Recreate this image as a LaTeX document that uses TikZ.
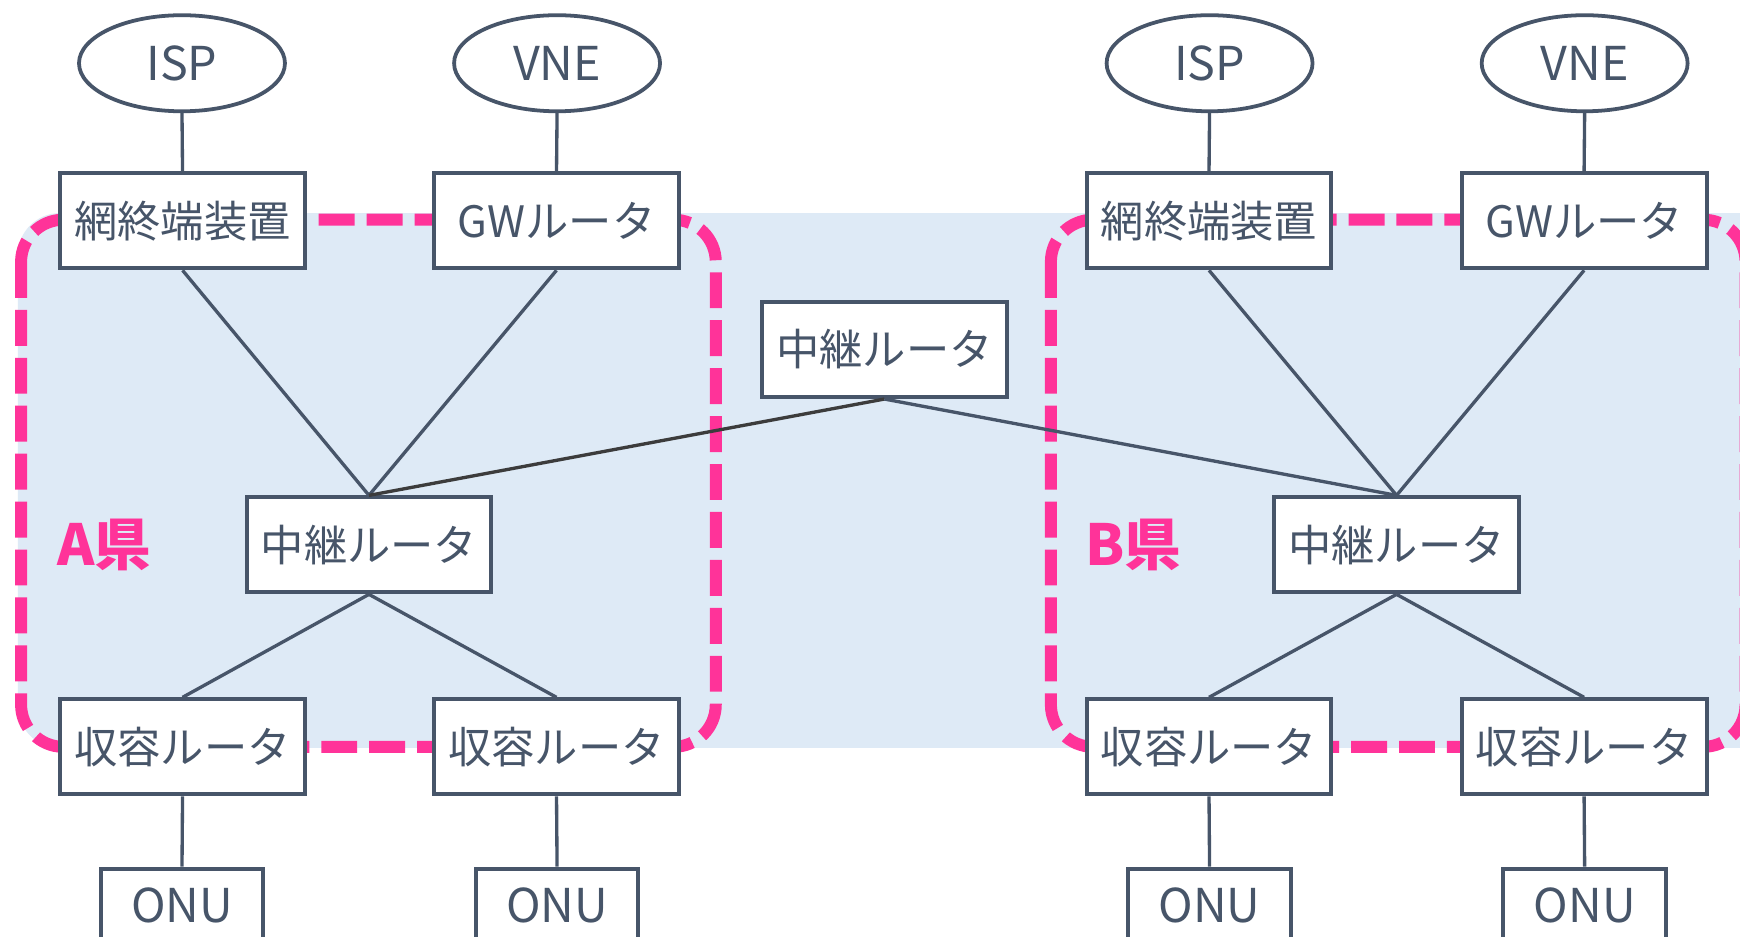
\documentclass[tikz,border=0pt]{standalone}
\usepackage{fontspec}
\setmainfont{Noto Sans CJK JP}
\usetikzlibrary{shapes.geometric}
\definecolor{slate}{RGB}{71,85,105}
\definecolor{pinkc}{RGB}{255,51,153}
\definecolor{bluebg}{RGB}{222,234,246}
\definecolor{darkline}{RGB}{60,60,60}
\begin{document}
\begin{tikzpicture}[x=0.5pt,y=-0.5pt,
  box/.style={draw=slate, line width=1.8pt, fill=white, minimum width=110.3pt, minimum height=42.8pt, inner sep=0pt, text=slate, font=\fontsize{19.5}{21}\selectfont},
  onubox/.style={box, minimum width=73.3pt, minimum height=33.3pt, font=\fontsize{21}{23}\selectfont},
  cloud/.style={ellipse, draw=slate, line width=1.7pt, fill=white, minimum width=92.8pt, minimum height=43.3pt, inner sep=0pt, text=slate, font=\fontsize{21}{23}\selectfont},
  link/.style={draw=slate, line width=1.5pt},
  darklink/.style={draw=darkline, line width=1.5pt},
  region/.style={draw=pinkc, line width=5.4pt, dash pattern=on 16.2pt off 5.4pt, rounded corners=19pt},
  pref/.style={text=pinkc, font=\fontsize{25.5}{27}\selectfont\bfseries}
]
\clip (0,0) rectangle (1568,844);
\fill[white] (0,0) rectangle (1568,844);
% blue background
\fill[bluebg, rounded corners=19pt] (16,192) rectangle (1620,674);
% dashed regions
\draw[region] (19,198) rectangle (645,673);
\draw[region] (947,198) rectangle (1573,673);

% left side
\node[cloud] (ispA) at (164,57) {ISP};
\node[cloud] (vneA) at (502,57) {VNE};
\node[box] (ntuA) at (164.5,199) {網終端装置};
\node[box] (gwA) at (501.5,199) {GWルータ};
\node[box] (relA) at (332.5,491) {中継ルータ};
\node[box] (accA1) at (164.5,673) {収容ルータ};
\node[box] (accA2) at (501.5,673) {収容ルータ};
\node[onubox] (onuA1) at (164,816) {ONU};
\node[onubox] (onuA2) at (502,816) {ONU};
\node[pref] (labA) at (94,491) {A県};

% middle
\node[box] (relM) at (797,315) {中継ルータ};

% right side
\node[cloud] (ispB) at (1090,57) {ISP};
\node[cloud] (vneB) at (1428,57) {VNE};
\node[box] (ntuB) at (1089.5,199) {網終端装置};
\node[box] (gwB) at (1427.5,199) {GWルータ};
\node[box] (relB) at (1258.5,491) {中継ルータ};
\node[box] (accB1) at (1089.5,673) {収容ルータ};
\node[box] (accB2) at (1427.5,673) {収容ルータ};
\node[onubox] (onuB1) at (1090,816) {ONU};
\node[onubox] (onuB2) at (1428,816) {ONU};
\node[pref] (labB) at (1021,491) {B県};

% connectors
\foreach \s in {A,B}{
  \draw[link] (isp\s.south) -- (ntu\s.north);
  \draw[link] (vne\s.south) -- (gw\s.north);
  \draw[link] (ntu\s.south) -- (rel\s.north);
  \draw[link] (gw\s.south) -- (rel\s.north);
  \draw[link] (rel\s.south) -- (acc\s1.north);
  \draw[link] (rel\s.south) -- (acc\s2.north);
  \draw[link] (acc\s1.south) -- (onu\s1.north);
  \draw[link] (acc\s2.south) -- (onu\s2.north);
}
\draw[darklink] (relM.south) -- (relA.north);
\draw[link] (relM.south) -- (relB.north);
\end{tikzpicture}
\end{document}
